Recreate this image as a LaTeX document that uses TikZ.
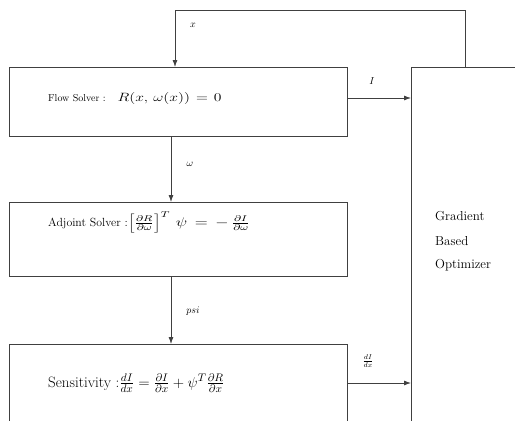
\documentclass[tikz,border=0pt]{standalone}
\usepackage{graphicx}
\usetikzlibrary{arrows.meta,calc}
\begin{document}
\begin{tikzpicture}[x=1pt,y=-1pt,
  box/.style={draw=black!75, line width=0.8pt, anchor=north west, inner sep=0pt},
  arr/.style={draw=black!75, line width=0.8pt, -{Latex[length=7pt,width=5pt]}},
  lbl/.style={font=\fontsize{10}{12}\selectfont, inner sep=0pt},
  txt/.style={anchor=west, inner sep=0pt}]
\useasboundingbox (0,0) rectangle (515,421);
\clip (0,0) rectangle (515,421);
\node[box, minimum width=338pt, minimum height=69pt] (flow) at (9,67) {};
\node[box, minimum width=338pt, minimum height=74pt] (adj) at (9,202) {};
\node[box, minimum width=338pt, minimum height=100pt] (sens) at (9,344) {};
\node[box, minimum width=140pt, minimum height=380pt] (opt) at (411,67) {};
\coordinate (cx) at (171,0);
\coordinate (fx) at (175,0);
\coordinate (ox) at (465,0);
\coordinate (fy) at (0,98);
\coordinate (sy) at (0,383);
\coordinate (top) at (0,10);
% texts
\node[txt, font=\fontsize{10}{12}\selectfont] (tflow) at (48,98) {Flow Solver :\hspace{12pt}{\fontsize{11.5}{14}\selectfont\scalebox{1.3}[1]{$R(x,\mkern3mu\omega(x))\mkern2mu=\mkern2mu0$}}};
\node[txt, font=\fontsize{11.8}{14}\selectfont] (tadj) at (48,222) {Adjoint Solver :\scalebox{1.42}[1.05]{$\left[\frac{\partial R}{\partial \omega}\right]^T\mkern3mu\psi\mkern3mu=\mkern3mu-\mkern3mu\frac{\partial I}{\partial \omega}$}};
\node[txt, font=\fontsize{15}{18}\selectfont] (tsens) at (48,383) {Sensitivity :\scalebox{1.04}[1]{$\frac{dI}{dx} = \frac{\partial I}{\partial x} + \psi^T \frac{\partial R}{\partial x}$}};
\node[txt, font=\fontsize{13}{15}\selectfont] (g1) at (435,216) {Gradient};
\node[txt, font=\fontsize{13}{15}\selectfont] (g2) at (435,241) {Based};
\node[txt, font=\fontsize{13}{15}\selectfont] (g3) at (435,265) {Optimizer};
% connectors
\draw[arr] (flow.east |- fy) -- (opt.west |- fy);
\draw[arr] (sens.east |- sy) -- (opt.west |- sy);
\draw[arr] (flow.south -| cx) -- (adj.north -| cx);
\draw[arr] (adj.south -| cx) -- (sens.north -| cx);
\draw[arr] (opt.north -| ox) -- (ox |- top) -- (fx |- top) -- (flow.north -| fx);
% labels
\node[lbl] (lx) at (193,25) {$x$};
\node[lbl] (lI) at (372,81) {$I$};
\node[lbl] (lw) at (190,164) {$\omega$};
\node[lbl] (lpsi) at (193,311) {$psi$};
\node[lbl] (ld) at (368,361) {$\frac{dI}{dx}$};
\end{tikzpicture}
\end{document}
